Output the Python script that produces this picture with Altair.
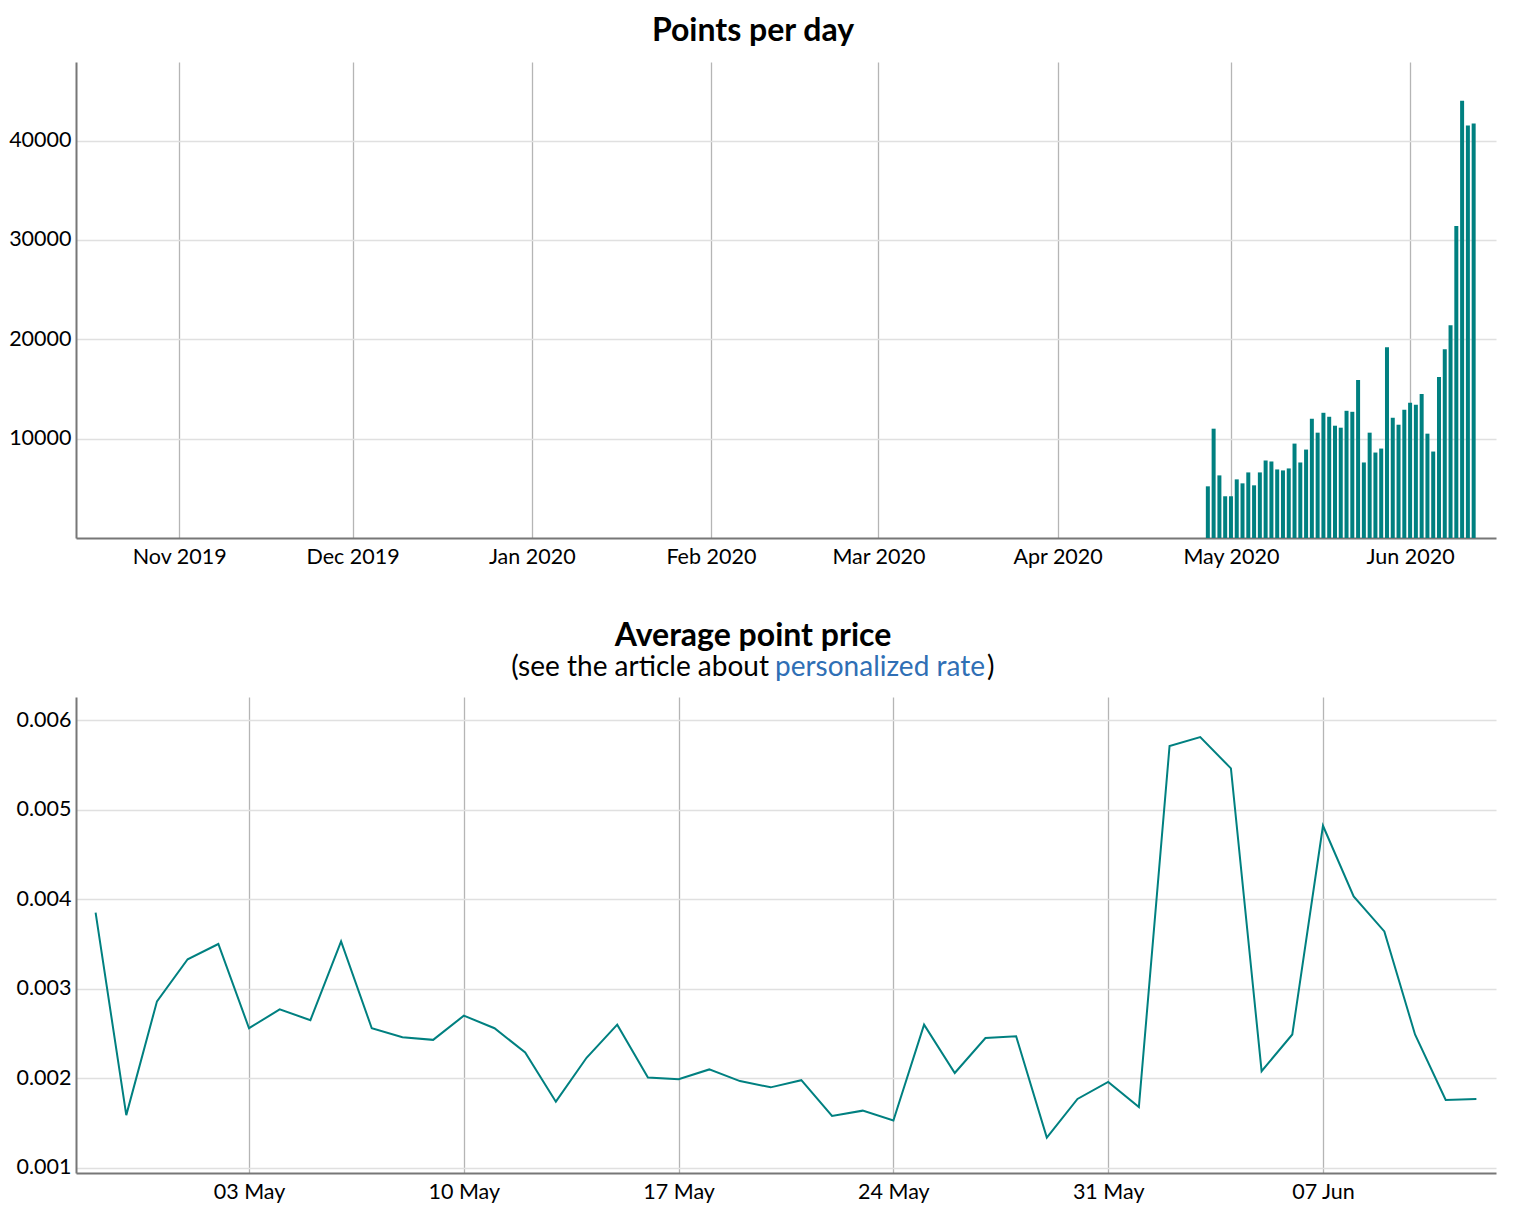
import altair as alt
import pandas as pd

# ---- data ----
bar_start = "2020-04-27"
points_per_day = [5200, 11000, 6300, 4200, 4200, 5900, 5500, 6600, 5300, 6600,
                  7800, 7700, 6900, 6800, 7000, 9500, 7600, 8900, 12000, 10600,
                  12600, 12200, 11300, 11100, 12800, 12700, 15900, 7600, 10600, 8600,
                  9000, 19200, 12100, 11400, 12900, 13600, 13400, 14500, 10500, 8700,
                  16200, 19000, 21400, 31400, 44000, 41500, 41700]

line_start = "2020-04-28"
avg_price = [0.00385, 0.00159, 0.00286, 0.00333, 0.00350, 0.00256, 0.00277, 0.00265,
             0.00353, 0.00256, 0.00246, 0.00243, 0.00270, 0.00256, 0.00229, 0.00174,
             0.00223, 0.00260, 0.00201, 0.00199, 0.00210, 0.00197, 0.00190, 0.00198,
             0.00158, 0.00164, 0.00153, 0.00260, 0.00206, 0.00245, 0.00247, 0.00134,
             0.00177, 0.00196, 0.00168, 0.00571, 0.00581, 0.00546, 0.00208, 0.00249,
             0.00482, 0.00403, 0.00364, 0.00249, 0.00176, 0.00177]

bar_y_ticks = [10000, 20000, 30000, 40000]
line_y_ticks = [0.001, 0.002, 0.003, 0.004, 0.005, 0.006]

title1 = "Points per day"
title2 = "Average point price"
sub_left = "(see the article about"
sub_link = "personalized rate"
sub_right = ")"

bar_df = pd.DataFrame({
    "date": pd.date_range(bar_start, periods=len(points_per_day), freq="D").strftime("%Y-%m-%dT00:00:00"),
    "points": points_per_day,
})
line_df = pd.DataFrame({
    "date": pd.date_range(line_start, periods=len(avg_price), freq="D").strftime("%Y-%m-%dT00:00:00"),
    "price": avg_price,
})

TEAL = "#008080"
FONT = "Lato"
W, H = 1420, 476
LBL = 21.5

xaxis_common = dict(grid=True, gridColor="#b5b5b5", gridWidth=1.3, ticks=False,
                    domainColor="#777777", domainWidth=2, labelFontSize=LBL,
                    labelPadding=8, labelColor="black", title=None)
yaxis_common = dict(grid=True, gridColor="#e0e0e0", gridWidth=1.6, ticks=False,
                    domainColor="#777777", domainWidth=2, labelFontSize=LBL,
                    labelPadding=5, labelColor="black", title=None)

bars = alt.Chart(bar_df, title=alt.TitleParams(title1, fontSize=32, font=FONT, fontWeight="bold",
                                                 color="black", offset=17, dx=-33, dy=3)).mark_bar(
    size=4, color=TEAL, clip=True
).encode(
    x=alt.X("date:T",
            scale=alt.Scale(domain=[alt.DateTime(year=2019, month=10, date=15),
                                    alt.DateTime(year=2020, month=6, date=15)]),
            axis=alt.Axis(format="%b %Y", tickCount={"interval": "month", "step": 1}, **xaxis_common)),
    y=alt.Y("points:Q", scale=alt.Scale(domain=[0, 47900], nice=False),
            axis=alt.Axis(values=bar_y_ticks, format="d", **yaxis_common)),
).properties(width=W, height=H)

line = alt.Chart(line_df).mark_line(color=TEAL, strokeWidth=2, clip=True).encode(
    x=alt.X("date:T",
            scale=alt.Scale(domain=[alt.DateTime(year=2020, month=4, date=27, hours=8, minutes=40),
                                    alt.DateTime(year=2020, month=6, date=12, hours=15, minutes=20)]),
            axis=alt.Axis(format="%d %b", tickCount={"interval": "week", "step": 1}, **xaxis_common)),
    y=alt.Y("price:Q", scale=alt.Scale(domain=[0.000944, 0.006257], nice=False, zero=False),
            axis=alt.Axis(values=line_y_ticks, format=".3f", **yaxis_common)),
)

txt_df = pd.DataFrame({"t": [0]})
t_left = alt.Chart(txt_df).mark_text(text=sub_left, font=FONT, fontSize=28, color="black",
                                     align="right", baseline="middle").encode(
    x=alt.value(693), y=alt.value(-29))
t_link = alt.Chart(txt_df).mark_text(text=sub_link, font=FONT, fontSize=28, color="#2f6fb5",
                                     align="left", baseline="middle").encode(
    x=alt.value(699), y=alt.value(-29))
t_right = alt.Chart(txt_df).mark_text(text=sub_right, font=FONT, fontSize=28, color="black",
                                      align="left", baseline="middle").encode(
    x=alt.value(911), y=alt.value(-29))

chart2 = alt.layer(line, t_left, t_link, t_right).properties(
    width=W, height=H,
    title=alt.TitleParams(title2, fontSize=32, font=FONT, fontWeight="bold", color="black",
                          offset=1, dx=-33),
)

chart = alt.vconcat(bars, chart2, spacing=52).properties(
    padding={"left": 0, "top": 7, "right": 5, "bottom": 5}
).configure(font=FONT).configure_view(stroke=None)

chart.save("out.html", embed_options={"renderer": "svg", "actions": False})
